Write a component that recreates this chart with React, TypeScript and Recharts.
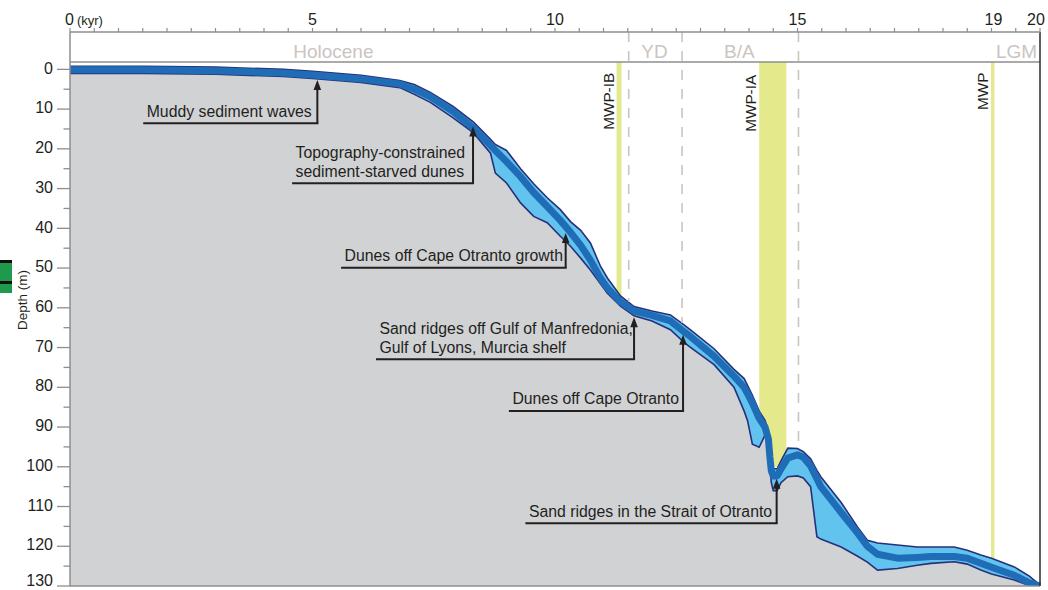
import React from "react";
import {
  ComposedChart,
  Area,
  Line,
  XAxis,
  YAxis,
  ReferenceArea,
  ReferenceLine,
  ReferenceDot,
} from "recharts";

const FONT = '"Liberation Sans", Arial, Helvetica, sans-serif';
const INK = "#231f20";
const AXIS_GRAY = "#8e8e8e";
const GROUND = "#d1d2d4";
const BAND = "#62c3ee";
const CORE = "#1f6db7";
const OUTLINE = "#27307a";
const YELLOW = "#e4ea8c";
const PALE = "#cbc4c1";

const TOP = -9.4; // depth at the x-axis line, header strip sits above 0 m
const BOTTOM = 130;
const HEADER_LINE = -1.85;

// ===== Sea-level curve (kyr BP vs depth in m) =====
const ageKyr = [
  0, 1.5, 3.0, 4.4, 5.0, 6.0, 6.8, 7.1, 7.43, 7.9, 8.32, 8.67, 8.77, 9.0, 9.29, 9.56,
  9.84, 10.11, 10.32, 10.53, 10.73, 10.94, 11.08, 11.35, 11.63, 12.0, 12.38, 12.66,
  12.8, 13.28, 13.69, 13.9, 13.97, 14.07, 14.21, 14.33, 14.4, 14.43, 14.46, 14.5,
  14.58, 14.66, 14.8, 15.0, 15.12, 15.27, 15.4, 15.48, 15.9, 16.24, 16.44, 16.65,
  17.06, 17.47, 17.75, 18.23, 18.5, 18.78, 19.0, 19.47, 19.78, 20.0,
];
const upperDepth = [
  -0.8, -0.8, -0.55, 0.0, 0.5, 1.5, 2.8, 3.8, 5.8, 9.3, 13.3, 17.6, 18.9, 20.4, 25.0, 28.8,
  32.3, 35.3, 38.3, 40.5, 43.7, 49.6, 52.5, 57.0, 59.7, 60.8, 61.8, 64.3,
  65.6, 70.3, 75.5, 77.8, 79.5, 82.0, 86.0, 88.3, 91.0, 95.5, 99.0, 100.5,
  100.5, 98.5, 95.3, 95.4, 96.2, 98.0, 100.9, 102.5, 109.0, 115.2, 118.5, 119.2,
  119.7, 120.2, 120.2, 120.2, 121.0, 122.2, 123.0, 125.2, 127.5, 129.8,
];
const centerDepth = [
  0.1, 0.1, 0.35, 0.9, 1.4, 2.4, 3.7, 5.0, 6.9, 10.6, 14.8, 19.1, 20.4, 23.2, 27.0, 31.0,
  34.5, 38.0, 41.0, 44.3, 48.0, 52.6, 55.0, 58.5, 60.8, 61.9, 63.3, 66.0,
  67.3, 72.2, 77.2, 80.0, 81.6, 84.0, 87.8, 90.0, 93.0, 97.5, 101.0, 102.3,
  102.3, 100.5, 97.8, 97.0, 97.6, 99.8, 103.0, 105.0, 111.5, 116.7, 120.0, 122.0,
  123.0, 122.8, 122.6, 122.6, 123.0, 124.3, 125.3, 127.3, 129.2, 130,
];
const lowerDepth = [
  1.0, 1.0, 1.25, 1.8, 2.3, 3.3, 4.6, 6.3, 8.3, 12.2, 16.0, 21.1, 26.1, 28.6, 33.6, 37.0,
  38.6, 42.0, 44.5, 47.5, 50.5, 54.0, 56.3, 59.6, 62.0, 63.3, 65.5, 68.7,
  70.0, 74.3, 80.0, 86.0, 88.4, 94.3, 95.1, 92.0, 94.0, 99.0, 104.0, 106.0,
  106.0, 104.0, 102.5, 102.3, 102.8, 105.0, 117.6, 118.2, 120.2, 122.5, 124.0, 126.0,
  125.6, 124.8, 124.3, 123.9, 124.5, 126.0, 127.0, 128.5, 129.9, 130,
];

// ===== Axes =====
const ageTicks = Array.from({ length: 41 }, (_, i) => i * 0.5);
const ageLabels = [0, 5, 10, 15, 19, 20];
const depthTicks = Array.from({ length: 27 }, (_, i) => i * 5);

// ===== Climate periods (header strip) =====
const periodNames = ["Holocene", "YD", "B/A", "LGM"];
const periodLabelAge = [5.43, 12.05, 13.8, 19.94];
const periodAnchor = ["middle", "middle", "middle", "end"];
const boundaryAge = [11.52, 12.62, 15.02];
const boundaryFoot = [58.5, 63.8, 95.3];

// ===== Meltwater pulses =====
const mwpNames = ["MWP-IB", "MWP-IA", "MWP"];
const mwpStart = [11.27, 14.21, 18.99];
const mwpEnd = [11.37, 14.77, 19.06];
const mwpFoot = [60, 100, 124];
const mwpLabelFoot = [15.2, 15.7, 10.2];

// ===== Annotations =====
const noteText = [
  ["Muddy sediment waves"],
  ["Topography-constrained", "sediment-starved dunes"],
  ["Dunes off Cape Otranto growth"],
  ["Sand ridges off Gulf of Manfredonia,", "Gulf of Lyons, Murcia shelf"],
  ["Dunes off Cape Otranto"],
  ["Sand ridges in the Strait of Otranto"],
];
const noteStart = [1.53, 4.6, 5.61, 6.33, 9.07, 9.41];
const noteEnd = [5.1, 8.31, 10.22, 11.63, 12.64, 14.57];
const noteBase = [13.56, 28.66, 49.9, 72.95, 85.96, 114.2];
const noteTip = [2.7, 14.4, 41.2, 62.4, 66.8, 103.0];

const profile = ageKyr.map((age, i) => ({
  age,
  center: centerDepth[i],
  lower: lowerDepth[i],
  band: [upperDepth[i], lowerDepth[i]],
}));

export default function App() {
  return (
    <div
      style={{
        position: "absolute",
        left: 0,
        top: 0,
        width: 1048,
        height: 590,
        background: "#fff",
        fontFamily: FONT,
      }}
    >
      {/* cropped-in legend swatch at the left edge of the original figure */}
      <div
        style={{
          position: "absolute",
          left: 0,
          top: 260,
          width: 12,
          height: 33,
          background: "#1f9a4c",
          borderTop: "3px solid #111",
          boxSizing: "border-box",
        }}
      >
        <div style={{ position: "absolute", left: 0, top: 18, width: 12, height: 3, background: "#111" }} />
      </div>

      <ComposedChart
        width={1048}
        height={590}
        data={profile}
        margin={{ top: 12, right: 8, bottom: 4, left: 10 }}
        style={{ position: "absolute", left: 0, top: 0 }}
      >
        <XAxis
          dataKey="age"
          type="number"
          orientation="top"
          domain={[0, 20]}
          ticks={ageTicks}
          interval={0}
          height={20}
          tickSize={0}
          tickMargin={0}
          tickLine={false}
          axisLine={{ stroke: AXIS_GRAY, strokeWidth: 1.5 }}
          tick={<AgeTick />}
        />
        <YAxis
          type="number"
          reversed
          domain={[TOP, BOTTOM]}
          allowDataOverflow
          ticks={depthTicks}
          interval={0}
          width={60}
          tickSize={0}
          tickMargin={0}
          tickLine={false}
          axisLine={{ stroke: AXIS_GRAY, strokeWidth: 1.5 }}
          tick={<DepthTick />}
          label={{ content: (p: any) => <DepthLabel {...p} /> }}
        />

        {/* Meltwater pulse bands */}
        {mwpNames.map((name, i) => (
          <ReferenceArea
            key={name}
            x1={mwpStart[i]}
            x2={mwpEnd[i]}
            y1={HEADER_LINE}
            y2={mwpFoot[i]}
            fill={YELLOW}
            fillOpacity={1}
            stroke="none"
          />
        ))}

        {/* seabed + sea-level envelope */}
        <Area
          dataKey="lower"
          type="linear"
          baseValue={BOTTOM}
          fill={GROUND}
          fillOpacity={1}
          stroke="none"
          isAnimationActive={false}
        />
        <Area
          dataKey="band"
          type="linear"
          fill={BAND}
          fillOpacity={1}
          stroke={OUTLINE}
          strokeWidth={1.6}
          isAnimationActive={false}
        />
        <Line
          dataKey="center"
          type="linear"
          stroke={CORE}
          strokeWidth={7}
          strokeLinejoin="round"
          dot={false}
          activeDot={false}
          isAnimationActive={false}
        />

        {/* period boundaries */}
        {boundaryAge.map((a, i) => (
          <ReferenceLine
            key={"b" + a}
            segment={[
              { x: a, y: TOP },
              { x: a, y: boundaryFoot[i] },
            ]}
            stroke={PALE}
            strokeWidth={1.6}
            strokeDasharray="10 9"
          />
        ))}

        {/* header strip and frame */}
        <ReferenceLine y={HEADER_LINE} stroke={AXIS_GRAY} strokeWidth={1.3} />
        <ReferenceLine y={BOTTOM} stroke={AXIS_GRAY} strokeWidth={1.5} />
        <ReferenceLine
          segment={[
            { x: 20, y: TOP },
            { x: 20, y: BOTTOM },
          ]}
          stroke="#2b2b2b"
          strokeWidth={1.5}
        />
        {periodNames.map((name, i) => (
          <ReferenceDot
            key={name}
            x={periodLabelAge[i]}
            y={-2.9}
            r={0}
            shape={(p: any) => (
              <text
                x={p.cx}
                y={p.cy}
                textAnchor={periodAnchor[i]}
                fill={PALE}
                fontSize={19}
                fontFamily={FONT}
              >
                {name}
              </text>
            )}
          />
        ))}

        {/* MWP labels */}
        {mwpNames.map((name, i) => (
          <ReferenceDot
            key={"l" + name}
            x={mwpStart[i]}
            y={mwpLabelFoot[i]}
            r={0}
            shape={(p: any) => (
              <text
                x={p.cx - 3}
                y={p.cy}
                transform={`rotate(-90 ${p.cx - 3} ${p.cy})`}
                fill={INK}
                fontSize={15.3}
                fontFamily={FONT}
              >
                {name}
              </text>
            )}
          />
        ))}

        {/* annotations */}
        {noteText.map((lines, i) => (
          <React.Fragment key={"n" + i}>
            <ReferenceLine
              segment={[
                { x: noteStart[i], y: noteBase[i] },
                { x: noteEnd[i], y: noteBase[i] },
              ]}
              stroke={INK}
              strokeWidth={2}
              strokeLinecap="square"
            />
            <ReferenceLine
              segment={[
                { x: noteEnd[i], y: noteBase[i] },
                { x: noteEnd[i], y: noteTip[i] + 1.5 },
              ]}
              stroke={INK}
              strokeWidth={2}
            />
            <ReferenceDot x={noteEnd[i]} y={noteTip[i]} r={0} shape={(p: any) => <ArrowHead {...p} />} />
            <ReferenceDot
              x={noteStart[i]}
              y={noteBase[i]}
              r={0}
              shape={(p: any) => <NoteText {...p} lines={lines} />}
            />
          </React.Fragment>
        ))}
      </ComposedChart>
    </div>
  );
}

function AgeTick({ x, y, payload }: any) {
  const v = payload.value;
  const labelled = ageLabels.includes(v);
  return (
    <g>
      <line x1={x} y1={y} x2={x} y2={y - 4} stroke={AXIS_GRAY} strokeWidth={1.2} />
      {labelled && v === 0 && (
        <text x={x - 5} y={y - 7} fill={INK} fontSize={16} fontFamily={FONT}>
          0
          <tspan fontSize={13} dx={3}>
            (kyr)
          </tspan>
        </text>
      )}
      {labelled && v !== 0 && (
        <text
          x={v === 20 ? x - 4 : v === 19 ? x + 2 : x}
          y={y - 7}
          textAnchor="middle"
          fill={INK}
          fontSize={16}
          fontFamily={FONT}
        >
          {v}
        </text>
      )}
    </g>
  );
}

function DepthTick({ x, y, payload }: any) {
  const v = payload.value;
  const major = v % 10 === 0;
  // the last label sits right on the bottom edge, lift it so it is not clipped
  const drop = v === BOTTOM ? 0 : 4.2;
  return (
    <g>
      <line x1={x - (major ? 13 : 6.5)} y1={y} x2={x} y2={y} stroke={AXIS_GRAY} strokeWidth={1.3} />
      {major && (
        <text x={x - 17} y={y + drop} textAnchor="end" fill={INK} fontSize={16} fontFamily={FONT}>
          {v}
        </text>
      )}
    </g>
  );
}

function DepthLabel({ viewBox }: any) {
  const cx = viewBox.x + 12;
  const cy = 300;
  return (
    <text
      x={cx}
      y={cy}
      transform={`rotate(-90 ${cx} ${cy})`}
      textAnchor="middle"
      dominantBaseline="central"
      fill={INK}
      fontSize={13.5}
      fontFamily={FONT}
    >
      Depth (m)
    </text>
  );
}

function ArrowHead({ cx, cy }: any) {
  return <path d={`M${cx},${cy} L${cx - 3.8},${cy + 10} L${cx + 3.8},${cy + 10} Z`} fill={INK} />;
}

function NoteText({ cx, cy, lines }: any) {
  const n = lines.length;
  return (
    <text fill={INK} fontSize={15.8} fontFamily={FONT}>
      {lines.map((t: string, i: number) => (
        <tspan key={i} x={cx + 2.5} y={cy - 6.5 - (n - 1 - i) * 18.5}>
          {t}
        </tspan>
      ))}
    </text>
  );
}
